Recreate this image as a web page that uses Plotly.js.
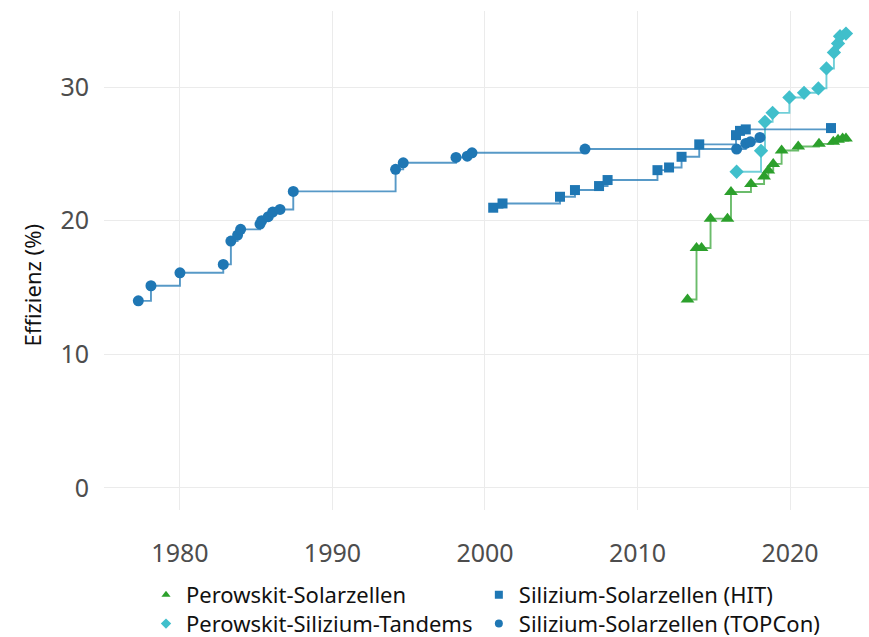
<!DOCTYPE html>
<html>
<head>
<meta charset="utf-8">
<script src="https://cdn.plot.ly/plotly-3.0.1.min.js"></script>
<style>
html,body{margin:0;padding:0;background:#fff;overflow:hidden;}
#chart{width:869px;height:637px;}
</style>
</head>
<body>
<div id="chart"></div>
<script>
// ---- data ----
const perovskiteYears = [2013.28, 2013.87, 2014.2, 2014.79, 2015.9, 2016.13, 2017.44, 2018.3, 2018.58, 2018.9, 2019.45, 2020.54, 2021.9, 2022.84, 2023.15, 2023.45, 2023.67];
const perovskiteEff   = [14.1, 17.95, 17.95, 20.15, 20.15, 22.15, 22.75, 23.3, 23.75, 24.25, 25.25, 25.55, 25.75, 25.9, 26.05, 26.15, 26.15];

const tandemYears = [2016.5, 2018.1, 2018.36, 2018.86, 2019.96, 2020.92, 2021.86, 2022.39, 2022.88, 2023.15, 2023.28, 2023.67];
const tandemEff   = [23.66, 25.23, 27.4, 28.07, 29.22, 29.57, 29.9, 31.39, 32.59, 33.26, 33.8, 34.0];

const hitYears = [2000.54, 2001.15, 2004.92, 2005.9, 2007.48, 2008.04, 2011.31, 2012.07, 2012.89, 2014.05, 2016.46, 2016.72, 2017.1, 2022.69];
const hitEff   = [20.97, 21.29, 21.79, 22.29, 22.59, 23.04, 23.78, 23.98, 24.78, 25.71, 26.4, 26.72, 26.83, 26.93];

const topconYears = [1977.27, 1978.1, 1980.0, 1982.84, 1983.34, 1983.78, 1983.98, 1985.25, 1985.36, 1985.79, 1986.08, 1986.56, 1987.43, 1994.14, 1994.64, 1998.1, 1998.84, 1999.15, 2006.56, 2016.5, 2017.1, 2017.4, 2018.03];
const topconEff   = [14.0, 15.13, 16.1, 16.73, 18.47, 18.92, 19.35, 19.75, 20.0, 20.3, 20.64, 20.84, 22.19, 23.84, 24.33, 24.73, 24.83, 25.08, 25.36, 25.36, 25.78, 25.9, 26.23];

const seriesNames = ["Perowskit-Solarzellen", "Silizium-Solarzellen (HIT)", "Perowskit-Silizium-Tandems", "Silizium-Solarzellen (TOPCon)"];
const xTickVals = [1980, 1990, 2000, 2010, 2020];
const yTickVals = [0, 10, 20, 30];
const yTitle = "Effizienz (%)";

// ---- styles ----
const FONT = "Noto Sans, Open Sans, sans-serif";
const cGreen = "#2ca02c", cBlue = "#1f77b4", cCyan = "#40bfcb";

function stepTrace(x, y, name, color, lineColor, symbol, size) {
  return {
    type: "scatter", mode: "lines+markers", x: x, y: y, name: name,
    line: {shape: "hv", color: lineColor, width: 1.9},
    marker: {symbol: symbol, size: size, color: color},
    showlegend: false, hoverinfo: "x+y+name"
  };
}
function legendTrace(name, color, symbol, legendId) {
  return {
    type: "scatter", mode: "markers", x: [null], y: [null], name: name,
    marker: {symbol: symbol, size: 8, color: color}, showlegend: true, legend: legendId
  };
}

const data = [
  stepTrace(perovskiteYears, perovskiteEff, seriesNames[0], cGreen, "rgba(44,160,44,0.7)", "triangle-up", 12),
  stepTrace(tandemYears, tandemEff, seriesNames[2], cCyan, "rgba(64,191,203,0.75)", "diamond", 11),
  stepTrace(hitYears, hitEff, seriesNames[1], cBlue, "rgba(31,119,180,0.75)", "square", 10),
  stepTrace(topconYears, topconEff, seriesNames[3], cBlue, "rgba(31,119,180,0.75)", "circle", 11),
  legendTrace(seriesNames[0], cGreen, "triangle-up", "legend"),
  legendTrace(seriesNames[1], cBlue, "square", "legend2"),
  legendTrace(seriesNames[2], cCyan, "diamond", "legend3"),
  legendTrace(seriesNames[3], cBlue, "circle", "legend4")
];

function legendAt(x, y) {
  return {
    orientation: "h", x: x, xanchor: "left", y: y, yanchor: "top",
    font: {size: 22, color: "#111", family: FONT},
    itemwidth: 30, bgcolor: "rgba(0,0,0,0)"
  };
}
const col1 = 0.0549, col2 = 0.490, row1 = -0.128, row2 = -0.186;

const layout = {
  width: 869, height: 637,
  margin: {l: 104, r: 0, t: 11, b: 127, autoexpand: false},
  paper_bgcolor: "#ffffff", plot_bgcolor: "#ffffff",
  font: {family: FONT, color: "#222"},
  xaxis: {
    range: [1975.02, 2025.18], tickvals: xTickVals, ticktext: xTickVals.map(String),
    showgrid: true, gridcolor: "#ebebeb", gridwidth: 1, zeroline: false, showline: false,
    ticks: "", ticklabelstandoff: 26, tickfont: {size: 25, color: "#4d4d4d", family: FONT}
  },
  yaxis: {
    range: [-1.65, 35.69], tickvals: yTickVals, ticktext: yTickVals.map(String),
    showgrid: true, gridcolor: "#ebebeb", gridwidth: 1, zeroline: false, showline: false,
    ticks: "", ticklabelstandoff: 14, tickfont: {size: 25, color: "#4d4d4d", family: FONT}
  },
  annotations: [{
    text: yTitle, xref: "paper", yref: "paper", x: -0.094, y: 0.45,
    xanchor: "center", yanchor: "middle", textangle: -90, showarrow: false,
    font: {size: 22, color: "#111", family: FONT}
  }],
  legend: legendAt(col1, row1),
  legend2: legendAt(col2, row1),
  legend3: legendAt(col1, row2),
  legend4: legendAt(col2, row2),
  showlegend: true
};

Plotly.newPlot("chart", data, layout, {displayModeBar: false, staticPlot: true});
</script>
</body>
</html>
